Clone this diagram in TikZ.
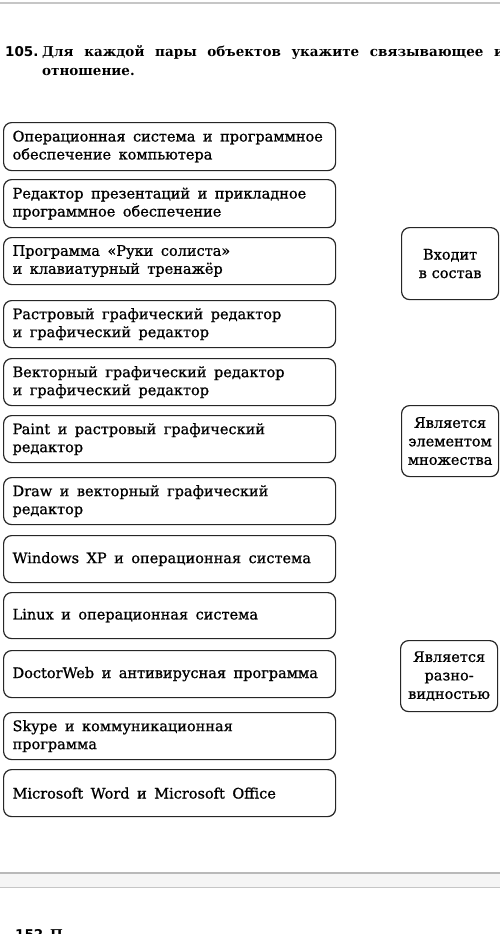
\documentclass[tikz,border=0pt]{standalone}
\usepackage{fontspec}
\setmainfont{DejaVu Serif}
\newfontfamily\boxfont{DejaVu Serif}[FakeBold=0.9]
\setsansfont{DejaVu Sans}
\newcommand\widesp{\spaceskip=7.5pt plus 1pt\relax\xspaceskip=7.5pt\relax}
\begin{document}
\begin{tikzpicture}[x=1pt,y=-1pt,
  lbox/.style={draw=black!85, line width=1.2pt, rounded corners=8pt, anchor=north west,
    minimum height=47pt, text width=314pt, inner xsep=9pt, inner ysep=0pt, align=left,
    font=\boxfont\fontsize{14.5}{18}\selectfont, execute at begin node={\widesp}},
  rbox/.style={draw=black!85, line width=1.2pt, rounded corners=8pt, anchor=north west,
    minimum height=71pt, text width=93pt, inner xsep=2pt, inner ysep=0pt, align=center,
    font=\boxfont\fontsize{14.5}{18.5}\selectfont},
  ttl/.style={anchor=base west, inner sep=0pt, font=\bfseries\fontsize{13.5}{18}\selectfont}]
\clip (0,0) rectangle (500,934);
\fill[white] (0,0) rectangle (500,934);
% top rule and bottom bar
\draw[gray!45, line width=1.5pt] (0,3) -- (500,3);
\fill[gray!8] (0,873) rectangle (500,887);
\draw[gray!55, line width=1.5pt] (0,873) -- (500,873);
\draw[gray!45, line width=1pt] (0,887) -- (500,887);
% title
\node[anchor=base west, inner sep=0pt, font=\sffamily\bfseries\fontsize{13.5}{18}\selectfont] (num) at (5,57) {105.};
\node[ttl] (t1) at (42,57) {\makebox[470pt][s]{Для каждой пары объектов укажите связывающее их}};
\node[ttl] (t2) at (42,75) {отношение.};
% left boxes
\node[lbox, minimum height=48pt] (b1) at (3,122) {Операционная система и программное\\обеспечение компьютера};
\node[lbox, minimum height=48pt] (b2) at (3,179) {Редактор презентаций и прикладное\\программное обеспечение};
\node[lbox] (b3) at (3,237) {Программа «Руки солиста»\\и клавиатурный тренажёр};
\node[lbox] (b4) at (3,300) {Растровый графический редактор\\и графический редактор};
\node[lbox] (b5) at (3,358) {Векторный графический редактор\\и графический редактор};
\node[lbox] (b6) at (3,415) {Paint и растровый графический\\редактор};
\node[lbox] (b7) at (3,477) {Draw и векторный графический\\редактор};
\node[lbox] (b8) at (3,535) {Windows XP и операционная система};
\node[lbox, minimum height=46pt] (b9) at (3,592) {Linux и операционная система};
\node[lbox] (b10) at (3,650) {DoctorWeb и антивирусная программа};
\node[lbox] (b11) at (3,712) {Skype и коммуникационная\\программа};
\node[lbox] (b12) at (3,769) {Microsoft Word и Microsoft Office};
% right boxes
\node[rbox, minimum height=72pt] (r1) at (401,227) {Входит\\в состав};
\node[rbox] (r2) at (401,405) {Является\\элементом\\множества};
\node[rbox] (r3) at (400,640) {Является\\разно-\\видностью};
% next exercise, cut off
\node[anchor=base west, inner sep=0pt, font=\sffamily\bfseries\fontsize{13.5}{18}\selectfont] (n2) at (15,939) {152.};
\node[ttl] (p2) at (50,939) {П};
\end{tikzpicture}
\end{document}
